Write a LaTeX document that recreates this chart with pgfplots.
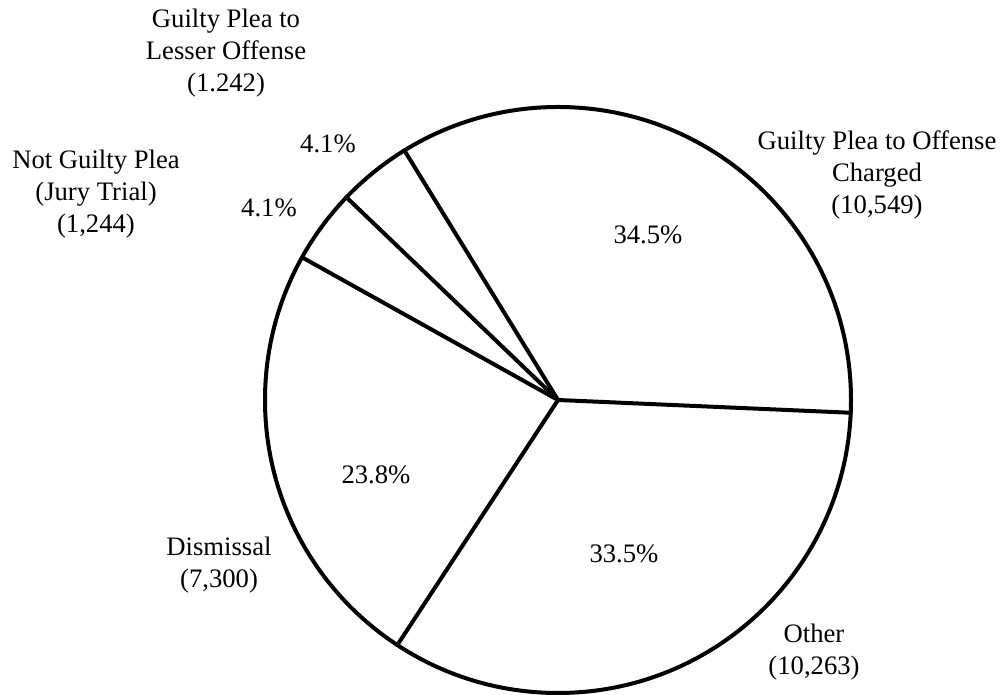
\documentclass[border=0pt]{standalone}
\usepackage{pgfplots}
\pgfplotsset{compat=1.18}
\usepackage{fontspec}
\setmainfont{Liberation Serif}

% case counts, counter-clockwise from the line just below 3 o'clock
\def\nCharged{10549}
\def\nLesser{1242}
\def\nJury{1244}
\def\nDismissal{7300}
\def\nOther{10263}

% in thousands, so pgfmath does not overflow
\pgfmathsetmacro\tot{\nCharged/1000+\nLesser/1000+\nJury/1000+\nDismissal/1000+\nOther/1000}
\pgfmathsetmacro\aA{-2.5}
\pgfmathsetmacro\aB{\aA+360*(\nCharged/1000)/\tot}
\pgfmathsetmacro\aC{\aB+360*(\nLesser/1000)/\tot}
\pgfmathsetmacro\aD{\aC+360*(\nJury/1000)/\tot}
\pgfmathsetmacro\aE{\aD+360*(\nDismissal/1000)/\tot}

\tikzset{lbl/.style={align=center, inner sep=0pt, font=\fontsize{20}{24}\selectfont}}

\begin{document}
\begin{tikzpicture}
\useasboundingbox[fill=white] (0,0) rectangle (753pt,521.25pt);
\begin{axis}[
    scale only axis,
    width=753pt, height=521.25pt,
    xmin=-558, xmax=446,
    ymin=-295, ymax=400,
    hide axis,
    clip=false,
]
    \draw[line width=3pt] (axis cs:0,0) circle[radius=293];
    \foreach \a in {\aA,\aB,\aC,\aD,\aE} {
        \edef\tmp{\noexpand\addplot[black, line width=3pt, line cap=round, data cs=polar, mark=none]
            coordinates {(0,0) (\a,293)};}
        \tmp
    }

    \node[lbl] at (axis cs:-332,347) {Guilty Plea to\\Lesser Offense\\(1.242)};
    \node[lbl] at (axis cs:-230,256) {4.1\%};
    \node[lbl] at (axis cs:-289,192) {4.1\%};
    \node[lbl] at (axis cs:-462,206) {Not Guilty Plea\\(Jury Trial)\\(1,244)};
    \node[lbl] at (axis cs:319,225) {Guilty Plea to Offense\\Charged\\(10,549)};
    \node[lbl] at (axis cs:90,165) {34.5\%};
    \node[lbl] at (axis cs:-182,-75) {23.8\%};
    \node[lbl] at (axis cs:66,-154) {33.5\%};
    \node[lbl] at (axis cs:-339,-165) {Dismissal\\(7,300)};
    \node[lbl] at (axis cs:256,-252) {Other\\(10,263)};
\end{axis}
\end{tikzpicture}
\end{document}
